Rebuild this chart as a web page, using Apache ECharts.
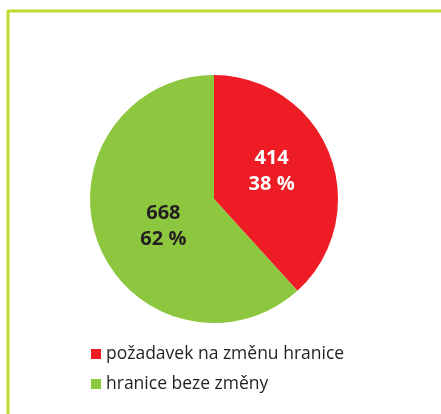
<!DOCTYPE html>
<html>
<head>
<meta charset="utf-8">
<script src="https://cdn.jsdelivr.net/npm/echarts@6/dist/echarts.min.js"></script>
<style>
  html, body { margin: 0; padding: 0; background: #fff; }
  #chart { width: 441px; height: 414px; }
</style>
</head>
<body>
<div id="chart"></div>
<script>
const categories = ['požadavek na změnu hranice', 'hranice beze změny']
const values = [414, 668]
const colors = ['#ee1c25', '#8dc63f']
const labelColors = ['#ffffff', '#231f20']
const labelOffsets = [[-3, -4], [10, 4]]

const total = values.reduce((a, b) => a + b, 0)

const chart = echarts.init(document.getElementById('chart'))

chart.setOption({
  animation: false,
  // zelený rámeček vlevo a nahoře
  graphic: [
    { type: 'line', shape: { x1: 8, y1: 11, x2: 441, y2: 11 }, style: { stroke: '#c3d92f', lineWidth: 3 } },
    { type: 'line', shape: { x1: 8, y1: 10, x2: 8, y2: 414 }, style: { stroke: '#c3d92f', lineWidth: 3 } }
  ],
  legend: {
    orient: 'vertical',
    left: 86,
    top: 340,
    itemWidth: 10,
    itemHeight: 10,
    itemGap: 12,
    icon: 'rect',
    textStyle: { fontFamily: 'Open Sans', fontSize: 17.5, color: '#231f20', padding: [0, 0, 0, 0] },
    data: categories
  },
  series: [{
    type: 'pie',
    center: [214, 199],
    radius: [0, 124],
    startAngle: 90,
    clockwise: true,
    silent: true,
    label: {
      position: 'inside',
      fontFamily: 'Open Sans',
      fontWeight: 'bold',
      fontSize: 20,
      lineHeight: 26,
      formatter: p => p.value + '\n' + Math.round(p.value / total * 100) + ' %'
    },
    labelLine: { show: false },
    data: categories.map((name, i) => ({
      name,
      value: values[i],
      itemStyle: { color: colors[i] },
      label: { color: labelColors[i], offset: labelOffsets[i] }
    }))
  }]
})
</script>
</body>
</html>
